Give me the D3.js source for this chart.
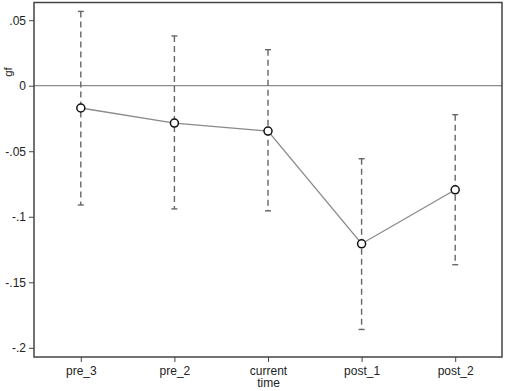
<!DOCTYPE html>
<html>
<head>
<meta charset="utf-8">
<script src="https://cdn.jsdelivr.net/npm/d3@7"></script>
<style>
body { margin: 0; background: #fff; }
text { font-family: "Liberation Sans", Arial, sans-serif; fill: #222; }
</style>
</head>
<body>
<svg width="505" height="391"></svg>
<script>
// periods and estimates (with 95% CI)
const periods = ["pre_3", "pre_2", "current time", "post_1", "post_2"];
const coef = [-0.017, -0.0285, -0.0346, -0.1206, -0.0794];
const ciLow = [-0.091, -0.094, -0.0955, -0.186, -0.1366];
const ciHigh = [0.0567, 0.038, 0.0275, -0.0557, -0.0221];
const yTicks = [0.05, 0, -0.05, -0.1, -0.15, -0.2];

const svg = d3.select("svg"),
  margin = { top: 2.5, right: 3, bottom: 34, left: 34 },
  width = +svg.attr("width"),
  height = +svg.attr("height"),
  innerWidth = width - margin.left - margin.right,
  innerHeight = height - margin.top - margin.bottom;

const g = svg.append("g").attr("transform", `translate(${margin.left},${margin.top})`);

const data = periods.map((p, i) => ({ p, b: coef[i], lo: ciLow[i], hi: ciHigh[i] }));

const x = d3.scalePoint().domain(periods).range([0, innerWidth]).padding(0.5);
const y = d3.scaleLinear().domain([-0.207, 0.0635]).range([innerHeight, 0]);

// Stata-like labels: ".05", "-.1"
const fmt = v => v === 0 ? "0" : (v < 0 ? "-" : "") + d3.format(".2~f")(Math.abs(v)).replace(/^0/, "");

// zero reference line
g.append("line")
  .attr("x1", 0).attr("x2", innerWidth)
  .attr("y1", y(0)).attr("y2", y(0))
  .attr("stroke", "#8c8c8c").attr("stroke-width", 1.3);

// CI bars
const bars = g.selectAll(".ci").data(data).join("g").attr("class", "ci")
  .attr("stroke", "#666").attr("stroke-width", 1.4);
bars.append("line")
  .attr("x1", d => x(d.p)).attr("x2", d => x(d.p))
  .attr("y1", d => y(d.hi)).attr("y2", d => y(d.lo))
  .attr("stroke-dasharray", "6,4");
bars.append("line")
  .attr("x1", d => x(d.p) - 3).attr("x2", d => x(d.p) + 3)
  .attr("y1", d => y(d.hi)).attr("y2", d => y(d.hi));
bars.append("line")
  .attr("x1", d => x(d.p) - 3).attr("x2", d => x(d.p) + 3)
  .attr("y1", d => y(d.lo)).attr("y2", d => y(d.lo));

// connecting line
g.append("path")
  .datum(data)
  .attr("fill", "none")
  .attr("stroke", "#8a8a8a")
  .attr("stroke-width", 1.3)
  .attr("d", d3.line().x(d => x(d.p)).y(d => y(d.b)));

g.selectAll(".pt").data(data).join("circle")
  .attr("cx", d => x(d.p)).attr("cy", d => y(d.b))
  .attr("r", 4)
  .attr("fill", "#fff").attr("stroke", "#111").attr("stroke-width", 1.5);

// axes
const yAxis = g.append("g")
  .call(d3.axisLeft(y).tickValues(yTicks).tickFormat(fmt).tickSize(5).tickPadding(3));
yAxis.select(".domain").remove();
yAxis.selectAll("line").attr("stroke", "#444");
yAxis.selectAll("text").attr("font-size", 12).attr("fill", "#222");

const xAxis = g.append("g")
  .attr("transform", `translate(0,${innerHeight})`)
  .call(d3.axisBottom(x).tickSize(5).tickPadding(4));
xAxis.select(".domain").remove();
xAxis.selectAll("line").attr("stroke", "#444");
xAxis.selectAll("text").attr("font-size", 12).attr("fill", "#222")
  .each(function(d) {
    const t = d3.select(this), words = d.split(" ");
    if (words.length > 1) {
      t.text(null);
      words.forEach((w, i) => t.append("tspan").attr("x", 0).attr("dy", i ? "1.0em" : "0.71em").text(w));
    }
  });

// frame
g.append("rect")
  .attr("width", innerWidth).attr("height", innerHeight)
  .attr("fill", "none").attr("stroke", "#444").attr("stroke-width", 1.5);

svg.append("text")
  .attr("transform", "translate(12,72) rotate(-90)")
  .attr("text-anchor", "middle")
  .attr("font-size", 11.5)
  .text("gf");
</script>
</body>
</html>
